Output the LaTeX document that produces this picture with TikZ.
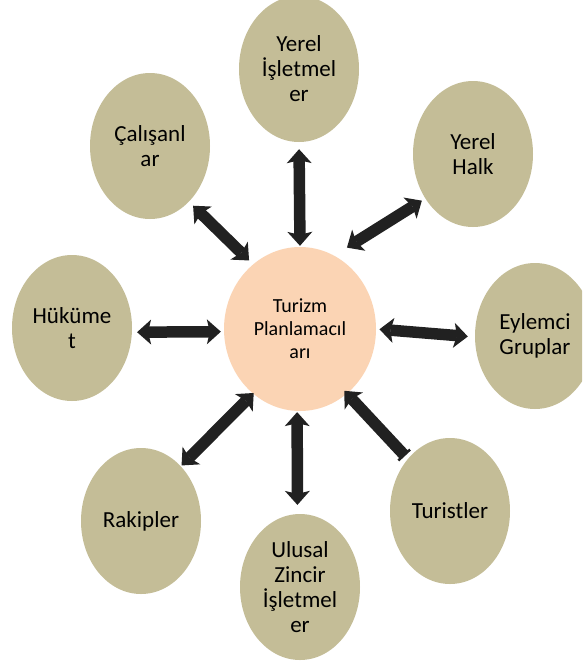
\documentclass[tikz,border=0pt]{standalone}
\usepackage{fontspec}
\setmainfont{Carlito}
\usetikzlibrary{arrows.meta,shapes.geometric}
\definecolor{khaki}{HTML}{C4BD97}
\definecolor{peach}{HTML}{FBD4B4}
\definecolor{arrc}{HTML}{212121}
\tikzset{
  bigtip/.tip={Stealth[length=14pt,width=25pt,inset=3pt,line width=0pt]},
  bartip/.tip={Bar[width=16pt,line width=2.5pt]},
  outer/.style={ellipse, fill=khaki, minimum width=120pt, minimum height=146pt,
    inner sep=0pt, align=center, font=\fontsize{23}{25}\selectfont},
  inner/.style={ellipse, fill=peach, minimum width=152pt, minimum height=164pt,
    inner sep=0pt, align=center, font=\fontsize{20}{23}\selectfont},
  dbl/.style={draw=arrc, line width=11.5pt, bigtip-bigtip},
  single/.style={draw=arrc, line width=11.5pt, bartip-bigtip}
}
\begin{document}
\begin{tikzpicture}[x=1pt,y=-1pt]
\useasboundingbox (0,0) rectangle (582,670);
\fill[white] (0,0) rectangle (582,670);
\clip (0,0) rectangle (582,670);
\node[inner] (C) at (300,329) {Turizm\\Planlamacıl\\arı};
\node[outer] (T) at (299,69) {Yerel\\İşletmel\\er};
\node[outer] (Ca) at (150,146) {Çalışanl\\ar};
\node[outer] (H) at (473,154) {Yerel\\Halk};
\node[outer] (K) at (72,328) {Hüküme\\t};
\node[outer] (E) at (535,336) {Eylemci\\Gruplar};
\node[outer] (R) at (141,521) {Rakipler};
\node[outer] (S) at (450,511) {Turistler};
\node[outer] (U) at (300,587) {Ulusal\\Zincir\\İşletmel\\er};
\draw[dbl, shorten <=1pt, shorten >=7pt] (C.90) -- (T.-90);
\draw[dbl, shorten <=5.5pt, shorten >=5.7pt] (C.126) -- (Ca.-55);
\draw[dbl, shorten <=15pt, shorten >=4pt] (C.65) -- (H.223);
\draw[dbl, shorten <=3pt, shorten >=5pt] (C.182) -- (K.-4);
\draw[dbl, shorten <=3.3pt, shorten >=7pt] (C.0) -- (E.181);
\draw[dbl, shorten <=-1pt, shorten >=1pt] (C.234) -- (R.54);
\draw[dbl, shorten <=1pt, shorten >=9pt] (C.268) -- (U.92);
\draw[single, shorten <=4pt, shorten >=-4pt] (S.129) -- (C.-54);
\end{tikzpicture}
\end{document}
